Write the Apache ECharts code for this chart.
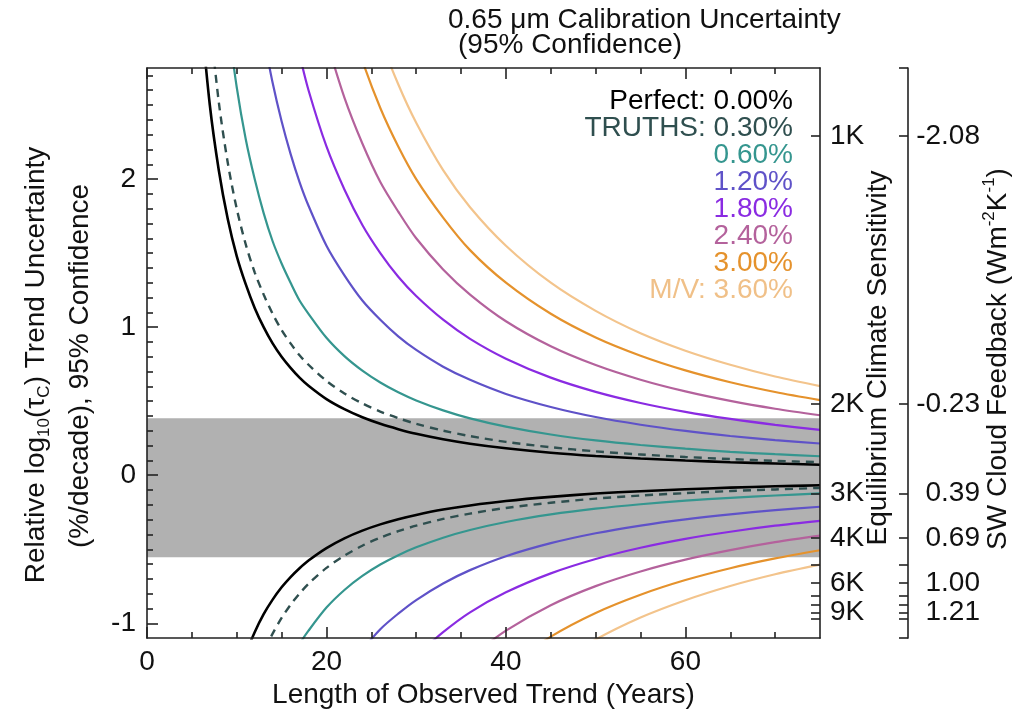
<!DOCTYPE html>
<html>
<head>
<meta charset="utf-8">
<script src="https://cdn.jsdelivr.net/npm/echarts@6/dist/echarts.min.js"></script>
<style>
  html, body { margin: 0; padding: 0; background: #ffffff; }
  #chart { width: 1017px; height: 714px; }
</style>
</head>
<body>
<div id="chart"></div>
<script>
// Trend length (years) shared by every curve
const years = [6, 7, 8, 9, 10, 11, 12, 13, 14, 15, 16, 17, 18, 20, 22, 24, 26, 28, 30, 33, 36, 40, 45, 50, 55, 60, 65, 70, 75];

// Upper branch of each uncertainty curve
const perfectUp = [3.13, 2.50, 2.06, 1.73, 1.48, 1.29, 1.13, 1.00, 0.89, 0.80, 0.725, 0.659, 0.604, 0.514, 0.446, 0.391, 0.347, 0.311, 0.280, 0.243, 0.213, 0.182, 0.152, 0.130, 0.113, 0.099, 0.088, 0.079, 0.071];
const truthsUp = [null, 3.08, 2.52, 2.11, 1.80, 1.56, 1.37, 1.22, 1.09, 0.98, 0.89, 0.81, 0.746, 0.637, 0.552, 0.485, 0.430, 0.385, 0.347, 0.301, 0.264, 0.225, 0.189, 0.161, 0.140, 0.123, 0.109, 0.097, 0.088];
const cal060Up = [null, null, null, 3.07, 2.62, 2.27, 2.00, 1.77, 1.58, 1.43, 1.30, 1.18, 1.09, 0.928, 0.804, 0.706, 0.626, 0.560, 0.505, 0.438, 0.384, 0.328, 0.275, 0.235, 0.204, 0.179, 0.158, 0.142, 0.128];
const cal120Up = [null, null, null, null, null, null, null, 2.96, 2.65, 2.39, 2.17, 1.98, 1.82, 1.55, 1.35, 1.18, 1.05, 0.938, 0.846, 0.733, 0.644, 0.549, 0.461, 0.393, 0.341, 0.299, 0.265, 0.237, 0.214];
const cal180Up = [null, null, null, null, null, null, null, null, null, null, 3.11, 2.84, 2.60, 2.22, 1.93, 1.69, 1.50, 1.34, 1.21, 1.05, 0.921, 0.787, 0.659, 0.563, 0.488, 0.428, 0.380, 0.340, 0.306];
const cal240Up = [null, null, null, null, null, null, null, null, null, null, null, null, null, 2.94, 2.55, 2.24, 1.98, 1.78, 1.60, 1.39, 1.22, 1.04, 0.871, 0.744, 0.645, 0.566, 0.502, 0.449, 0.405];
const cal300Up = [null, null, null, null, null, null, null, null, null, null, null, null, null, null, 3.19, 2.80, 2.48, 2.22, 2.00, 1.74, 1.52, 1.30, 1.09, 0.930, 0.807, 0.708, 0.628, 0.562, 0.507];
const cal360Up = [null, null, null, null, null, null, null, null, null, null, null, null, null, null, null, 3.33, 2.95, 2.64, 2.38, 2.06, 1.81, 1.55, 1.30, 1.11, 0.959, 0.841, 0.746, 0.667, 0.602];

// Lower branch of each uncertainty curve
const perfectLo = [null, null, null, -1.63, -1.39, -1.21, -1.06, -0.938, -0.840, -0.757, -0.688, -0.628, -0.576, -0.492, -0.426, -0.374, -0.332, -0.297, -0.268, -0.232, -0.204, -0.174, -0.146, -0.124, -0.108, -0.095, -0.084, -0.075, -0.068];
const truthsLo = [null, null, null, null, null, null, -1.35, -1.19, -1.07, -0.964, -0.875, -0.799, -0.733, -0.626, -0.543, -0.476, -0.422, -0.378, -0.341, -0.295, -0.259, -0.221, -0.186, -0.158, -0.137, -0.121, -0.107, -0.096, -0.086];
const cal060Lo = [null, null, null, null, null, null, null, null, null, null, -1.25, -1.14, -1.05, -0.894, -0.775, -0.680, -0.603, -0.540, -0.487, -0.422, -0.370, -0.316, -0.265, -0.226, -0.196, -0.172, -0.153, -0.137, -0.123];
const cal120Lo = [null, null, null, null, null, null, null, null, null, null, null, null, null, null, null, -1.18, -1.04, -0.935, -0.843, -0.731, -0.641, -0.547, -0.459, -0.392, -0.340, -0.298, -0.264, -0.236, -0.213];
const cal180Lo = [null, null, null, null, null, null, null, null, null, null, null, null, null, null, null, null, null, null, -1.22, -1.06, -0.926, -0.791, -0.663, -0.566, -0.490, -0.430, -0.382, -0.341, -0.308];
const cal240Lo = [null, null, null, null, null, null, null, null, null, null, null, null, null, null, null, null, null, null, null, null, -1.23, -1.05, -0.878, -0.749, -0.650, -0.570, -0.506, -0.452, -0.408];
const cal300Lo = [null, null, null, null, null, null, null, null, null, null, null, null, null, null, null, null, null, null, null, null, null, -1.30, -1.09, -0.930, -0.807, -0.708, -0.628, -0.562, -0.507];
const cal360Lo = [null, null, null, null, null, null, null, null, null, null, null, null, null, null, null, null, null, null, null, null, null, null, -1.30, -1.11, -0.961, -0.844, -0.748, -0.669, -0.604];

// Shaded range of the climate sensitivity band
const bandTop = 0.385;
const bandBottom = -0.554;

// Calibration levels (legend)
const calNames = ['Perfect:', 'TRUTHS:', '', '', '', '', '', 'M/V:'];
const calLabels = ['0.00%', '0.30%', '0.60%', '1.20%', '1.80%', '2.40%', '3.00%', '3.60%'];

// Right-hand axes: tick positions on the left scale and their labels
const ecsTickPos = [2.292, 0.481, -0.122, -0.425, -0.606, -0.727, -0.813, -0.878, -0.928, -0.968];
const ecsLabelPos = [2.292, 0.481, -0.122, -0.425, -0.727, -0.928];
const ecsLabels = ['1K', '2K', '3K', '4K', '6K', '9K'];
const feedbackLabels = ['-2.08', '-0.23', '0.39', '0.69', '1.00', '1.21'];

// Axis ranges and ticks
const xMin = 0, xMax = 75;
const yMin = -1.1, yMax = 2.75;
const xMajor = [0, 20, 40, 60];
const xMinor = [5, 10, 15, 25, 30, 35, 45, 50, 55, 65, 70];
const yMajor = [-1, 0, 1, 2];

const FONT = "'Liberation Sans', Arial, Helvetica, sans-serif";
const INK = '#111111';

const curves = [
  { up: perfectUp, lo: perfectLo, color: '#000000', width: 2.6, dash: 'solid' },
  { up: truthsUp,  lo: truthsLo,  color: '#2f4f4f', width: 2.4, dash: [8, 6] },
  { up: cal060Up,  lo: cal060Lo,  color: '#35968f', width: 2.2, dash: 'solid' },
  { up: cal120Up,  lo: cal120Lo,  color: '#5f52c8', width: 2.2, dash: 'solid' },
  { up: cal180Up,  lo: cal180Lo,  color: '#8a2be2', width: 2.2, dash: 'solid' },
  { up: cal240Up,  lo: cal240Lo,  color: '#b4629c', width: 2.2, dash: 'solid' },
  { up: cal300Up,  lo: cal300Lo,  color: '#e5922c', width: 2.2, dash: 'solid' },
  { up: cal360Up,  lo: cal360Lo,  color: '#f3c48c', width: 2.2, dash: 'solid' }
];
const legendColors = ['#000000', '#2f4f4f', '#35968f', '#5f52c8', '#8a2be2', '#b4629c', '#e5922c', '#f0c088'];

function pairs(vals) {
  return years.map((t, i) => [t, vals[i]]);
}

const yMinorTicks = [];
for (let k = -10; k <= 27; k++) {
  if (k % 10 !== 0) yMinorTicks.push(+(k / 10).toFixed(1));
}

const axisLineStyle = { color: '#222', width: 1.6 };

const series = [];
// grey band
series.push({
  type: 'line', data: [], z: 1, silent: true,
  markArea: {
    silent: true,
    itemStyle: { color: '#b1b1b1' },
    data: [[{ coord: [xMin, bandTop] }, { coord: [xMax, bandBottom] }]]
  }
});
curves.forEach(c => {
  ['up', 'lo'].forEach(part => {
    series.push({
      type: 'line',
      data: pairs(c[part]),
      showSymbol: false,
      smooth: 0.3,
      clip: true,
      silent: true,
      z: 3,
      lineStyle: { color: c.color, width: c.width, type: c.dash }
    });
  });
});

const graphic = [];
// title
graphic.push({ type: 'text', left: 448, top: 6, silent: true,
  style: { text: '0.65 μm Calibration Uncertainty', font: `28px ${FONT}`, fill: INK } });
graphic.push({ type: 'text', left: 458, top: 31, silent: true,
  style: { text: '(95% Confidence)', font: `28px ${FONT}`, fill: INK } });

// left axis title (two lines, rotated)
graphic.push({ type: 'text', x: 36, y: 365, rotation: Math.PI / 2, silent: true,
  style: {
    text: 'Relative log{sub|10}({n|τ}{sub|C}) Trend Uncertainty',
    fontFamily: FONT, fontSize: 28, lineHeight: 34, fill: INK,
    align: 'center', verticalAlign: 'middle',
    rich: {
      n: { fontFamily: FONT, fontSize: 28, lineHeight: 34, fill: INK },
      sub: { fontFamily: FONT, fontSize: 17, lineHeight: 14, verticalAlign: 'bottom', fill: INK }
    }
  } });
graphic.push({ type: 'text', x: 80, y: 366, rotation: Math.PI / 2, silent: true,
  style: { text: '(%/decade), 95% Confidence', font: `28px ${FONT}`, fill: INK,
    align: 'center', verticalAlign: 'middle' } });

// right axis titles
graphic.push({ type: 'text', x: 878, y: 358, rotation: Math.PI / 2, silent: true,
  style: { text: 'Equilibrium Climate Sensitivity', font: `28px ${FONT}`, fill: INK,
    align: 'center', verticalAlign: 'middle' } });
graphic.push({ type: 'text', x: 998, y: 359, rotation: Math.PI / 2, silent: true,
  style: {
    text: 'SW Cloud Feedback (Wm{sup|-2}K{sup|-1})',
    fontFamily: FONT, fontSize: 28, lineHeight: 34, fill: INK,
    align: 'center', verticalAlign: 'middle',
    rich: {
      sup: { fontFamily: FONT, fontSize: 17, lineHeight: 14, verticalAlign: 'top', fill: INK }
    }
  } });

// legend rows
calLabels.forEach((lab, i) => {
  const txt = calNames[i] ? calNames[i] + ' ' + lab : lab;
  graphic.push({ type: 'text', x: 793, y: 101 + i * 27, silent: true,
    style: { text: txt, font: `28px ${FONT}`, fill: legendColors[i],
      align: 'right', verticalAlign: 'middle' } });
});

const option = {
  animation: false,
  backgroundColor: '#ffffff',
  grid: { left: 147, right: 197, top: 68, bottom: 73, containLabel: false },
  xAxis: [
    { type: 'value', position: 'bottom', min: xMin, max: xMax, z: 10,
      axisLine: { show: true, onZero: false, lineStyle: axisLineStyle },
      axisTick: { show: true, inside: true, length: 11, lineStyle: axisLineStyle, customValues: xMajor },
      axisLabel: { show: true, customValues: xMajor, margin: 10, fontSize: 28, fontFamily: FONT, color: INK },
      splitLine: { show: false },
      name: 'Length of Observed Trend (Years)', nameLocation: 'middle', nameGap: 38,
      nameTextStyle: { fontSize: 28, fontFamily: FONT, color: INK } },
    { type: 'value', position: 'bottom', min: xMin, max: xMax, z: 10,
      axisLine: { show: false, onZero: false },
      axisTick: { show: true, inside: true, length: 6, lineStyle: axisLineStyle, customValues: xMinor },
      axisLabel: { show: false }, splitLine: { show: false } },
    { type: 'value', position: 'top', min: xMin, max: xMax, z: 10,
      axisLine: { show: true, onZero: false, lineStyle: axisLineStyle },
      axisTick: { show: true, inside: true, length: 11, lineStyle: axisLineStyle, customValues: xMajor },
      axisLabel: { show: false }, splitLine: { show: false } },
    { type: 'value', position: 'top', min: xMin, max: xMax, z: 10,
      axisLine: { show: false, onZero: false },
      axisTick: { show: true, inside: true, length: 6, lineStyle: axisLineStyle, customValues: xMinor },
      axisLabel: { show: false }, splitLine: { show: false } }
  ],
  yAxis: [
    { type: 'value', position: 'left', min: yMin, max: yMax, z: 10,
      axisLine: { show: true, onZero: false, lineStyle: axisLineStyle },
      axisTick: { show: true, inside: true, length: 11, lineStyle: axisLineStyle, customValues: yMajor },
      axisLabel: { show: true, customValues: yMajor, margin: 11, fontSize: 28, fontFamily: FONT, color: INK },
      splitLine: { show: false } },
    { type: 'value', position: 'left', min: yMin, max: yMax, z: 10,
      axisLine: { show: false, onZero: false },
      axisTick: { show: true, inside: true, length: 6, lineStyle: axisLineStyle, customValues: yMinorTicks },
      axisLabel: { show: false }, splitLine: { show: false } },
    { type: 'value', position: 'right', offset: 0, min: yMin, max: yMax, z: 10,
      axisLine: { show: true, onZero: false, lineStyle: axisLineStyle },
      axisTick: { show: true, inside: true, length: 9, lineStyle: axisLineStyle, customValues: ecsTickPos },
      axisLabel: { show: true, customValues: ecsLabelPos, margin: 10, fontSize: 28, fontFamily: FONT, color: INK,
        formatter: v => { const i = ecsLabelPos.findIndex(p => Math.abs(p - v) < 1e-6); return i >= 0 ? ecsLabels[i] : ''; } },
      splitLine: { show: false } },
    { type: 'value', position: 'right', offset: 88, min: yMin, max: yMax, z: 10,
      axisLine: { show: true, onZero: false, lineStyle: axisLineStyle },
      axisTick: { show: true, inside: true, length: 9, lineStyle: axisLineStyle, customValues: [yMin].concat(ecsTickPos, [yMax]) },
      axisLabel: { show: true, customValues: ecsLabelPos, margin: 72, align: 'right', fontSize: 28, fontFamily: FONT, color: INK,
        formatter: v => { const i = ecsLabelPos.findIndex(p => Math.abs(p - v) < 1e-6); return i >= 0 ? feedbackLabels[i] : ''; } },
      splitLine: { show: false } }
  ],
  graphic: graphic,
  series: series
};

const chart = echarts.init(document.getElementById('chart'), null, { renderer: 'canvas' });
chart.setOption(option);
</script>
</body>
</html>
